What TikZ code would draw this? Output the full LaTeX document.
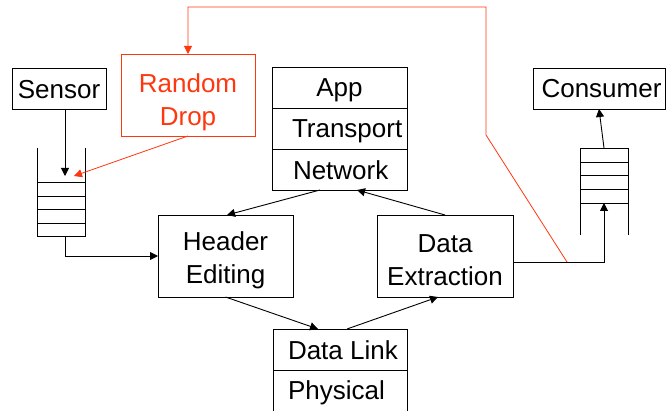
\documentclass[tikz,border=0pt]{standalone}
\usepackage{fontspec}
\setmainfont{Liberation Sans}
\usetikzlibrary{arrows.meta,positioning}
\definecolor{dropred}{RGB}{255,55,15}
\newcommand{\sink}[2]{\raisebox{-#1}[\height][\depth]{#2}}
\tikzset{
  box/.style={rectangle,draw,line width=0.9pt,outer sep=0pt,inner sep=0pt,align=center,
    font=\fontsize{26}{33}\selectfont},
  layer/.style={box,minimum width=135pt,minimum height=41pt},
  qbox/.style={rectangle,draw,line width=0.9pt,outer sep=0pt,inner sep=0pt},
  arr/.style={line width=0.9pt,-{Triangle[length=8pt,width=8pt]}},
  every picture/.style={line cap=butt,line join=miter}
}
\begin{document}
\begin{tikzpicture}[x=1pt,y=-1pt]
  \useasboundingbox (0,0) rectangle (666,411);
  \node[box,minimum width=94pt,minimum height=41pt] (sensor) at (59,88.5) {\sink{1pt}{Sensor}};
  \node[box,draw=dropred,text=dropred,minimum width=134pt,minimum height=82pt] (drop) at (188,95) {\sink{7pt}{Random}\\\sink{7pt}{Drop}};
  \node[box,minimum width=132pt,minimum height=41pt] (consumer) at (599,88.5) {\hspace{5pt}Consumer};

  \node[layer] (app) at (339.5,87.5) {\sink{3pt}{App}};
  \node[layer,below=0pt of app] (transport) {\sink{3pt}{\makebox[95pt][l]{Transport}}};
  \node[layer,below=0pt of transport] (network) {\sink{1pt}{\makebox[93pt][l]{Network}}};

  \node[box,minimum width=135pt,minimum height=82pt] (header) at (225.5,256) {\sink{4pt}{Header}\\\sink{4pt}{Editing}};
  \node[box,minimum width=136pt,minimum height=82pt] (extract) at (445,256) {\sink{4pt}{Data}\\\sink{4pt}{Extraction}};

  \node[layer,minimum width=134pt] (link) at (340,349.5) {\sink{1pt}{\makebox[104pt][l]{Data Link}}};
  \node[layer,minimum width=134pt,below=0pt of link] (phys) {\sink{2pt}{\makebox[104pt][l]{Physical}}};

  \node[qbox,minimum width=48pt,minimum height=54pt] (squeue) at (61,209) {};
  \foreach \y in {196,209.5,223}
    \draw[line width=0.9pt] (squeue.west |- 0,\y) -- (squeue.east |- 0,\y);
  \draw[line width=0.9pt] (squeue.north west) -- ++(0,-34) (squeue.north east) -- ++(0,-34);

  \node[qbox,minimum width=48pt,minimum height=55pt] (cqueue) at (604,175.5) {};
  \foreach \y in {162,175.5,189}
    \draw[line width=0.9pt] (cqueue.west |- 0,\y) -- (cqueue.east |- 0,\y);
  \draw[line width=0.9pt] (cqueue.south west) -- ++(0,32) (cqueue.south east) -- ++(0,32);

  \coordinate (sin) at (65,176);
  \coordinate (rin) at (74,176);
  \coordinate (tap) at (567,262);
  \coordinate (bend) at (486,135);
  \coordinate (top) at (486,7);

  \draw[arr] (sensor.south -| sin) -- (sin);
  \draw[arr] (squeue.south -| sin) |- (header.west);
  \draw[arr] ([xshift=-19.5pt]network.south) -- ([xshift=1.5pt]header.north);
  \draw[arr] (extract.north) -- ([xshift=17.5pt]network.south);
  \draw[arr] (header.south) -- ([xshift=-22pt]link.north);
  \draw[arr] ([xshift=7pt]link.north) -- ([xshift=-7pt]extract.south);
  \draw[arr] ([yshift=-6pt]extract.east) -| (cqueue.south);
  \draw[arr] (cqueue.north) -- (consumer.south);

  \draw[arr,draw=dropred,line width=0.8pt] (tap) -- (bend) -- (top) -| (drop.north);
  \draw[arr,draw=dropred,line width=0.8pt] (drop.south) -- (rin);
\end{tikzpicture}
\end{document}
